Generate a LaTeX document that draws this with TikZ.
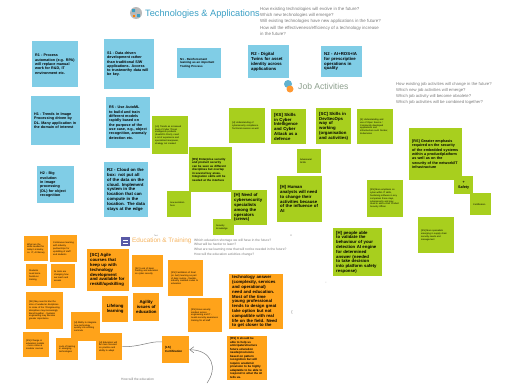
\documentclass[tikz,border=0pt]{standalone}
\usepackage{fontspec}
\setmainfont{Liberation Sans}
\usetikzlibrary{arrows.meta}
\hyphenpenalty=10000
\exhyphenpenalty=10000

\definecolor{notaAzul}{HTML}{80CDE6}
\definecolor{notaVerde}{HTML}{A8CF1E}
\definecolor{notaLaranja}{HTML}{FFA31A}
\definecolor{tituloAzul}{HTML}{3A9FC4}
\definecolor{tituloVerde}{HTML}{8C9E8C}
\definecolor{tituloLaranja}{HTML}{F5B35E}
\definecolor{cinza}{HTML}{7A7A7A}

\begin{document}
\begin{tikzpicture}[x=1pt,y=-1pt]
% Estilos
\tikzset{
  note/.style={anchor=north west,inner xsep=3pt,inner ysep=1pt,align=left,font=\bfseries\fontsize{3.7}{4.3}\selectfont},
  blue note/.style={note,fill=notaAzul},
  green note/.style={note,fill=notaVerde},
  orange note/.style={note,fill=notaLaranja},
  tiny/.style={font=\fontsize{2.3}{2.8}\selectfont},
  small/.style={font=\bfseries\fontsize{2.9}{3.5}\selectfont},
  big/.style={font=\bfseries\fontsize{4.3}{4.8}\selectfont},
  sz/.style n args={3}{minimum width=#1pt,minimum height=#2pt,text width=#3pt},
  question/.style={anchor=north west,text=cinza,inner sep=0pt,align=left},
  title/.style={anchor=west,inner sep=0pt},
  arrow line/.style={draw=cinza,line width=.5pt},
}
\useasboundingbox (0,0) rectangle (505,383);

% Titulos e perguntas
\fill[gray!55] (136,13) circle (6);
\fill[tituloAzul] (132,9) rectangle (135,12) (137,14) rectangle (140,17);
\fill[orange] (133,15) rectangle (135,17);
\node[title,text=tituloAzul,font=\fontsize{9.2}{11}\selectfont] (tecTitle) at (145,14) {Technologies \& Applications};
\node[question,font=\fontsize{4.4}{6.3}\selectfont] (tecQuestions) at (260,7) {How existing technologies will evolve in the future?\\Which new technologies will emerge?\\Will existing technologies have new applications in the future?\\How will the effectiveness/efficiency of a technology increase\\in the future?};

\fill[tituloAzul!80] (288,84) circle (4);
\fill[orange!80] (290,89) circle (3.5);
\node[title,text=tituloVerde,font=\fontsize{8.6}{10}\selectfont] (jobTitle) at (298,86) {Job Activities};
\node[question,font=\fontsize{4.2}{6}\selectfont] (jobQuestions) at (396,82.5) {How existing job activities will change in the future?\\Which new job activities will emerge?\\Which job activity will become obsolete?\\Which job activities will be combined together?};

\fill[gray!70!blue] (121,237) rectangle (130,246);
\draw[white,line width=.6pt] (123,240) -- (128,240) (123,243) -- (128,243);
\node[title,text=tituloLaranja,font=\fontsize{6.4}{8}\selectfont] (eduTitle) at (132,241) {Education \& Training};
\node[question,font=\fontsize{3.3}{4.7}\selectfont] (eduQuestions) at (194,238.7) {Which education shortage we will have in the future?\\What will be harder to learn?\\What are we learning now that will not be needed in the future?\\How will the education activities change?};
\node[question,font=\fontsize{2}{2.4}\selectfont] (eduText) at (154,234.5) {Text};

% Notas azuis
\node[blue note,sz={46}{46}{40}] (b1) at (32,41) {R1 - Process automation (e.g. RPA) will replace manual work for R\&D, IT environment etc.};
\node[blue note,sz={50}{50}{44}] (b2) at (104,39) {S1 - Data driven development rather than traditional S/W applications. Access to trustworthy data will be key.};
\node[blue note,small,sz={44}{30}{38}] (b3) at (177,48) {N1 - Reinforcement learning as an important Tooling Process};
\node[blue note,big,sz={41}{33}{35}] (b4) at (248,45) {R2 - Digital Twins for asset identity across applications};
\node[blue note,big,sz={41}{31}{35}] (b5) at (321,46) {N2 - AI+ROS+IA for prescriptive operations in quality};
\node[blue note,sz={49}{49}{43}] (b6) at (31,96) {H1 - Trends in Image Processing driven by DL. Many application in the domain of interest};
\node[blue note,sz={44}{51}{38}] (b7) at (106,97) {R5 - Use AutoML to build and train different models rapidly based on the purpose of the use case, e.g., object recognition, anomaly detection etc.};
\node[blue note,sz={37}{37}{31}] (b8) at (37,166) {H2 - Big evolution in image processing (DL) for object recognition};
\node[blue note,big,sz={44}{55}{38}] (b9) at (104,162) {R2 - Cloud on the box: not put all of the data on the cloud. Implement system in the location that can compute in the location. The data stays at the edge};

% Notas verdes
\node[green note,tiny,sz={36}{38}{30}] (g1) at (152,116) {[LS] Trends as increased level of Cyber Threat intelligence products (SaaS/On Prem), need a lot of experience and specialized manpower, strategy not created};
\node[green note,tiny,sz={36}{35}{30}] (g2) at (229,108) {[H] Understanding of cybersecurity compliance. Technical reasons as well};
\node[green note,big,sz={35}{35}{29}] (g3) at (271,109) {[KS] Skills in Cyber Intelligence and Cyber Attack as a defence};
\node[green note,big,sz={35}{36}{29}] (g4) at (316,108) {[SC] Skills in DevSecOps way of working (organisation and activities)};
\node[green note,tiny,sz={36}{35}{30}] (g5) at (357,109) {[K] Understanding and use of Open Source / Community developed applications and infrastructure such Docker, Kubernetes};
\node[green note,small,sz={43}{45}{37}] (g6) at (189,147) {[RS] Enterprise security and product security can be seen as different disciplines but overlap in several key areas. Integration skills will be needed at the interface};
\node[green note,tiny,sz={24}{26}{18}] (g7) at (167,191) {new evolution here};
\node[green note,tiny,sz={24}{24}{18}] (g8) at (297,149) {Adversarial AI/ML};
\node[green note,big,sz={36}{35}{30}] (g9) at (231,190) {[H] Need of cybersecurity specialists among the operators (crews)};
\node[green note,big,sz={45}{46}{39}] (g10) at (277,176) {[H] Human analysts will need to change their activities because of the influence of AI};
\node[green note,tiny,sz={21}{16}{15}] (g11) at (213,219) {Security Knowledge};
\node[green note,tiny,sz={36}{37}{30}] (g12) at (367,180) {[RS] More emphasis on cyber within IT skills, hardening software in any companies these days, cybersecurity and may need to add a chief Product Security Officer};
\node[green note,sz={53}{52}{47}] (g13) at (409,128) {[RS] Greater emphasis required on the security of the embedded systems within a product/platform as well as on the security of the network/IT infrastructure};
\node[green note,align=center,sz={19}{18}{13}] (g14) at (454,176) {+\\Safety};
\node[green note,tiny,sz={21}{22}{15}] (g15) at (470,193) {Certification};
\node[green note,tiny,sz={36}{36}{30}] (g16) at (418,217) {[RS] More specialists emerging in supply chain security needs and management};
\node[green note,big,sz={49}{48}{43}] (g17) at (333,228) {[H] people able to validate the behaviour of your detection AI engine for determined answer (needed to take decision into platform safety response)};

% Notas laranjas
\node[orange note,tiny,sz={24}{25}{18}] (o1) at (24,236) {What are the skills needed for today's industry, i.e. IT, AI literacy};
\node[orange note,tiny,sz={27}{27}{21}] (o2) at (50,235) {Continuous learning with industry partnerships for upskilling of staff and students};
\node[orange note,tiny,sz={21}{22}{15}] (o3) at (26,264) {Students need more hands-on training};
\node[orange note,tiny,sz={24}{24}{18}] (o4) at (51,264) {AI tools are changing how we teach and assess};
\node[orange note,big,sz={42}{42}{36}] (o5) at (87,249) {[SC] Agile courses that keep up with technology development and available for reskill/upskilling};
\node[orange note,tiny,sz={31}{32}{25}] (o6) at (132,255) {[SC] Lack of basic training and education on cyber security};
\node[orange note,tiny,sz={35}{36}{29}] (o7) at (168,260) {[RS] Facilitation of Real (or Just) learning as part of daily routine - flexible, industry credited routes to education};
\node[orange note,big,align=center,sz={26}{26}{20}] (o8) at (102,296) {Lifelong learning};
\node[orange note,big,align=center,sz={26}{28}{20}] (o9) at (133,293) {Agility issues of education};
\node[orange note,tiny,sz={37}{37}{31}] (o10) at (26,292) {[SE] May need to blur the silos of academic disciplines to some of the IT/engineering disciplines may increasingly blend together - Systems engineering may become greater importance};
\node[orange note,tiny,sz={34}{34}{28}] (o11) at (188,298) {[RS] Grow security mindset across engineering and IT - needs security awareness training for all staff};
\node[orange note,tiny,sz={29}{29}{23}] (o12) at (71,312) {[H] Ability to integrate new technology quickly into existing curricula};
\node[orange note,tiny,sz={26}{25}{20}] (o13) at (23,332) {[RS] Change in education models - more online \& modular courses};
\node[orange note,tiny,sz={22}{22}{16}] (o14) at (56,338) {Lack of training in emerging technologies};
\node[orange note,tiny,sz={26}{27}{20}] (o15) at (96,333) {[H] Education will be more focused on practice and ability to adapt};
\node[orange note,small,sz={27}{27}{21}] (o16) at (162,336) {[LS] Certification};
\node[orange note,big,sz={54}{55}{48}] (o17) at (229,274) {technology answer (complexity, services and operational) need and education. Most of the time young professional tends to design great take option but not compatible with real life on the field. Need to get closer to the};
\node[orange note,small,sz={40}{44}{34}] (o18) at (227,336) {[RS] It should be able to help us anticipate/structure future education needs/provisions based on pattern recognition but will require academic provision to be highly adaptable to be able to respond to what the AI tells us.};

% Setas
\coordinate (fimSeta) at (207,383);
\draw[arrow line] (o15.east) .. controls (140,347) and (150,341) .. (o16.150);
\draw[arrow line,-{Straight Barb[length=4pt,width=6pt]}] (fimSeta) .. controls (218,368) and (212,350) .. (o16.east);

% Marcas soltas
\node[question,font=\fontsize{3.3}{4}\selectfont] (eduCut) at (121,378) {How will the education};
\node[text=cinza,inner sep=0pt,font=\fontsize{3}{3}\selectfont] (marcaX) at (291,236) {x};
\node[text=cinza,inner sep=0pt,font=\fontsize{3.5}{4}\selectfont] (marcaTraco) at (326,283) {-};
\node[text=cinza,inner sep=0pt,font=\fontsize{4}{4}\selectfont] (marcaChave) at (292,312) {\{};
\end{tikzpicture}
\end{document}
